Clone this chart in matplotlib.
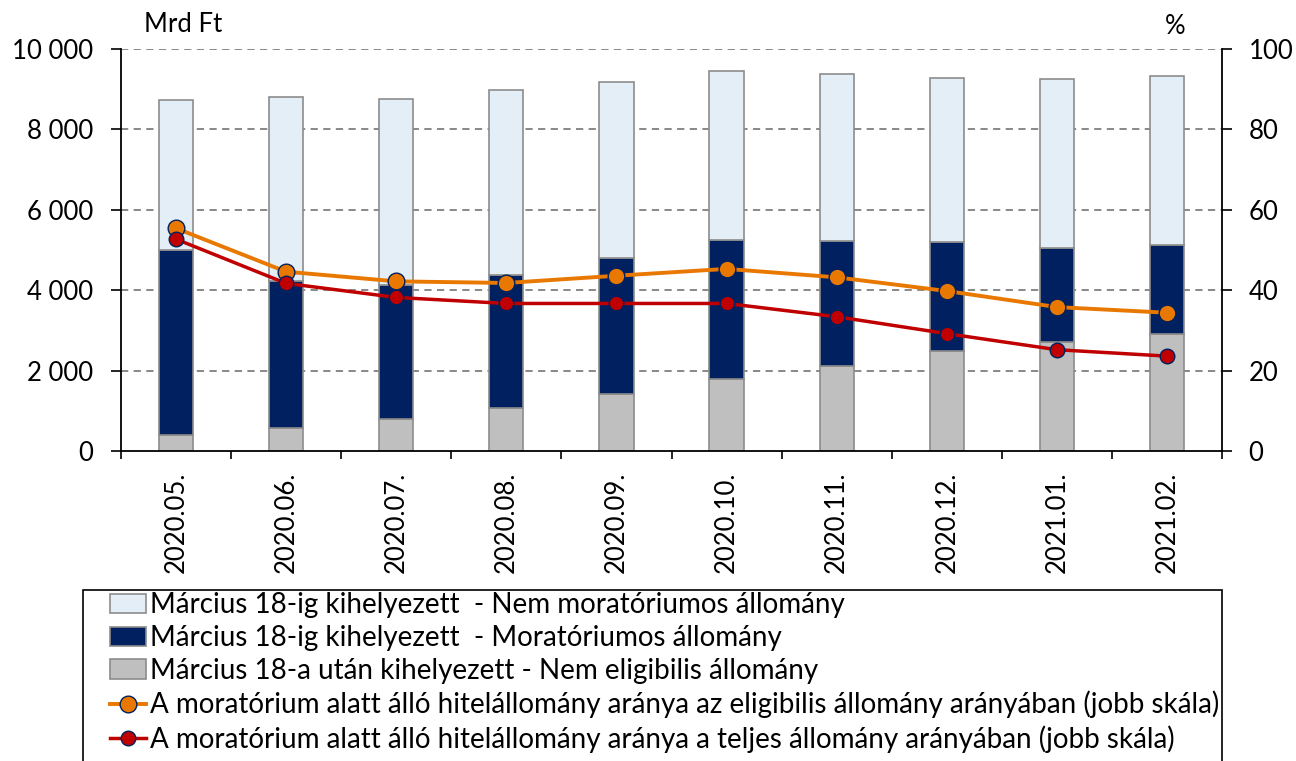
import matplotlib.pyplot as plt
import numpy as np
from matplotlib.patches import Patch, Rectangle
from matplotlib.lines import Line2D
from matplotlib.ticker import FuncFormatter, FixedLocator

plt.rcParams['font.family'] = ['Lato', 'DejaVu Sans']

months = ['2020.05.', '2020.06.', '2020.07.', '2020.08.', '2020.09.',
          '2020.10.', '2020.11.', '2020.12.', '2021.01.', '2021.02.']

# Mrd Ft
nem_eligibilis = [390, 560, 800, 1070, 1410, 1785, 2115, 2480, 2715, 2915]
moratoriumos = [4605, 3675, 3325, 3305, 3380, 3475, 3115, 2710, 2325, 2205]
nem_moratoriumos = [3725, 4580, 4620, 4605, 4380, 4200, 4155, 4100, 4205, 4215]

# %
arany_eligibilis = [55.4, 44.6, 42.2, 41.8, 43.6, 45.3, 43.2, 39.8, 35.8, 34.4]
arany_teljes = [52.7, 41.7, 38.2, 36.7, 36.7, 36.7, 33.4, 29.2, 25.2, 23.6]

labels = [
    'Március 18-ig kihelyezett  - Nem moratóriumos állomány',
    'Március 18-ig kihelyezett  - Moratóriumos állomány',
    'Március 18-a után kihelyezett - Nem eligibilis állomány',
    'A moratórium alatt álló hitelállomány aránya az eligibilis állomány arányában (jobb skála)',
    'A moratórium alatt álló hitelállomány aránya a teljes állomány arányában (jobb skála)',
]

c_light = '#E3EEF6'
c_navy = '#00205F'
c_gray = '#BFBFBF'
c_orange = '#E97800'
c_red = '#C00000'
c_edge = '#8C8C8C'

fs = 18.5

fig = plt.figure(figsize=(12.96, 7.61), dpi=100)
ax = fig.add_axes([121 / 1296, 1 - 451 / 761, (1222 - 121) / 1296, (451 - 49) / 761])
x = np.arange(len(months))
w = 0.31

b1 = np.array(nem_eligibilis)
b2 = np.array(moratoriumos)
b3 = np.array(nem_moratoriumos)
ax.bar(x, b1, w, color=c_gray, edgecolor=c_edge, lw=1.2, zorder=2)
ax.bar(x, b2, w, bottom=b1, color=c_navy, edgecolor=c_edge, lw=1.2, zorder=2)
ax.bar(x, b3, w, bottom=b1 + b2, color=c_light, edgecolor=c_edge, lw=1.2, zorder=2)

ax.set_xlim(-0.5, len(months) - 0.5)
ax.set_ylim(0, 10000)
ax.set_yticks(np.arange(0, 10001, 2000))
ax.yaxis.set_major_formatter(FuncFormatter(lambda v, p: f'{int(v):,}'.replace(',', ' ')))
for yv in range(2000, 10001, 2000):
    ax.axhline(yv, color='#7F7F7F', lw=1.3, ls=(0, (4, 3)), zorder=1)

ax.set_xticks(x)
ax.set_xticklabels(months, rotation=90, fontsize=fs)
ax.xaxis.set_minor_locator(FixedLocator(np.arange(-0.5, len(months), 1)))
ax.tick_params(axis='x', which='major', length=0, pad=15)
ax.tick_params(axis='x', which='minor', length=6, width=1.2, direction='out')
ax.tick_params(axis='y', length=7, width=1.2, direction='out', pad=13, labelsize=fs)
ax.spines['top'].set_visible(False)
ax.spines['right'].set_visible(False)
for s in ['left', 'bottom']:
    ax.spines[s].set_linewidth(1.3)

ax2 = ax.twinx()
ax2.plot(x, arany_eligibilis, color=c_orange, lw=2.8, marker='o', ms=12,
         mfc=c_orange, mec=c_navy, mew=1, zorder=3)
ax2.plot(x, arany_teljes, color=c_red, lw=2.5, marker='o', ms=10.5,
         mfc=c_red, mec=c_navy, mew=1, zorder=3)
ax2.set_ylim(0, 100)
ax2.set_yticks(np.arange(0, 101, 20))
ax2.tick_params(axis='y', length=7, width=1.2, direction='out', pad=12, labelsize=fs)
ax2.spines['top'].set_visible(False)
ax2.spines['left'].set_visible(False)
ax2.spines['bottom'].set_visible(False)
ax2.spines['right'].set_linewidth(1.3)

fig.text(183 / 1296, 1 - 25 / 761, 'Mrd Ft', fontsize=fs, ha='center', va='center')
fig.text(1175 / 1296, 1 - 27 / 761, '%', fontsize=fs, ha='center', va='center')

# legend: own frame, runs off the bottom of the picture like the original
fig.add_artist(Rectangle((83 / 1296, -0.02), (1222 - 83) / 1296, (761 - 590) / 761 + 0.02,
                         transform=fig.transFigure, fill=False, edgecolor='black', lw=1.2))
handles = [
    Patch(facecolor=c_light, edgecolor=c_edge, lw=1.2),
    Patch(facecolor=c_navy, edgecolor=c_edge, lw=1.2),
    Patch(facecolor=c_gray, edgecolor=c_edge, lw=1.2),
    Line2D([], [], color=c_orange, lw=2.8, marker='o', ms=12, mfc=c_orange, mec=c_navy, mew=1),
    Line2D([], [], color=c_red, lw=2.5, marker='o', ms=10.5, mfc=c_red, mec=c_navy, mew=1),
]
fig.legend(handles, labels, loc='upper left',
           bbox_to_anchor=(110 / 1296, 1 - 592 / 761),
           fontsize=20, frameon=False, borderaxespad=0, borderpad=0,
           handlelength=1.3, handletextpad=0.15, labelspacing=0.25)

fig.savefig('out.png', dpi=100)
